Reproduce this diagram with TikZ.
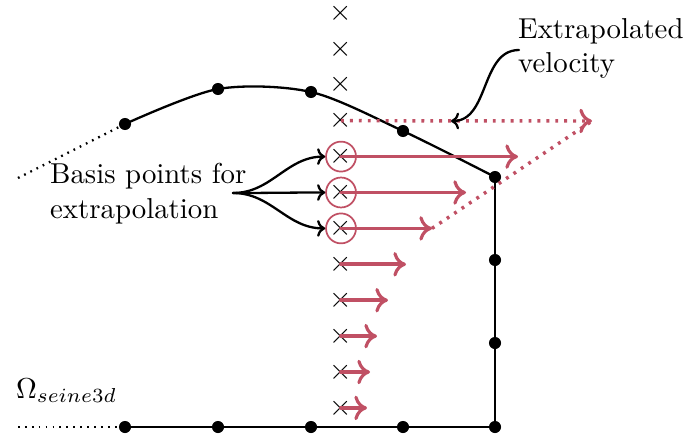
\documentclass[tikz,border=0pt]{standalone}
\usetikzlibrary{arrows.meta}
\definecolor{velred}{RGB}{192,80,100}
\begin{document}
\begin{tikzpicture}[x=0.3472pt, y=-0.3472pt, thick, line cap=round, line join=round,
  >={Computer Modern Rightarrow[width=5.8pt,length=2.8pt]},
  dot/.style={circle,fill=black,inner sep=0pt,minimum size=4.2pt},
  cross/.style={inner sep=0pt},
  basis/.style={circle,draw=velred,semithick,inner sep=0pt,minimum size=10.4pt},
  redtip/.style={-{Computer Modern Rightarrow[width=8.5pt,length=4.4pt,line width=1.1pt]}},
  vel/.style={velred,line width=1.3pt,redtip},
  xvel/.style={velred,line width=1.2pt,line cap=butt,dash pattern=on 1pt off 2.1pt},
  bdot/.style={line cap=butt,dash pattern=on 0.6pt off 1.8pt}]

  %% ════ boundary points ════
  \node[dot] (t1) at (125,124) {};
  \node[dot] (t2) at (218,89) {};
  \node[dot] (t3) at (311,92) {};
  \node[dot] (t4) at (403,131) {};
  \node[dot] (t5) at (495,177) {};
  \node[dot] (r2) at (495,260) {};
  \node[dot] (r1) at (495,343) {};
  \node[dot] (b5) at (495,427) {};
  \node[dot] (b4) at (403,427) {};
  \node[dot] (b3) at (311,427) {};
  \node[dot] (b2) at (218,427) {};
  \node[dot] (b1) at (125,427) {};
  \coordinate (lin) at (18,178);
  \coordinate (lbot) at (18,427);

  %% ════ boundary ════
  \draw plot[smooth] coordinates {(t1.center) (t2.center) (t3.center) (t4.center) (t5.center)};
  \draw (t5.center) -- (r2.center) -- (r1.center) -- (b5.center) -- (b4.center) -- (b3.center) -- (b2.center) -- (b1.center);
  \draw[bdot] (lin) -- (t1.center);
  \draw[bdot] (lbot) -- (b1.center);

  %% ════ crosses and basis circles ════
  \foreach \k in {0,...,11}
    \node[cross] (c\k) at (341,{13+35.9*\k}) {$\times$};
  \foreach \k in {4,5,6}
    \node[basis] (o\k) at (c\k) {};

  %% ════ velocities ════
  \foreach \k/\tx in {4/518,5/466,6/432,7/406,8/388,9/377,10/370,11/367} {
    \coordinate (v\k) at (\tx,{13+35.9*\k});
    \draw[vel] (c\k.center) -- (v\k);
  }
  \coordinate (vx) at (592,121);
  \draw[xvel,redtip] (c3.center) -- (vx);
  \draw[xvel] (v6) -- (vx);

  %% ════ labels ════
  \node[align=left, anchor=base west, inner sep=0pt] (basislbl) at (49,218) {Basis points for\\extrapolation};
  \coordinate (bsrc) at (233,193);
  \foreach \k in {4,5,6}
    \draw[->] (bsrc) to[out=0,in=180] (o\k.west);

  \node[align=left, anchor=base west, inner sep=0pt] (velbl) at (517,73) {Extrapolated\\velocity};
  \coordinate (vsrc) at (519,50);
  \coordinate (vtip) at (451,121);
  \draw[->] (vsrc) to[out=180,in=0] (vtip);

  \node[anchor=base west, inner sep=0pt] (omega) at (15,398) {$\Omega_{seine3d}$};

  \pgfresetboundingbox
  \path[use as bounding box] (0,0) rectangle (687,434);
\end{tikzpicture}
\end{document}
